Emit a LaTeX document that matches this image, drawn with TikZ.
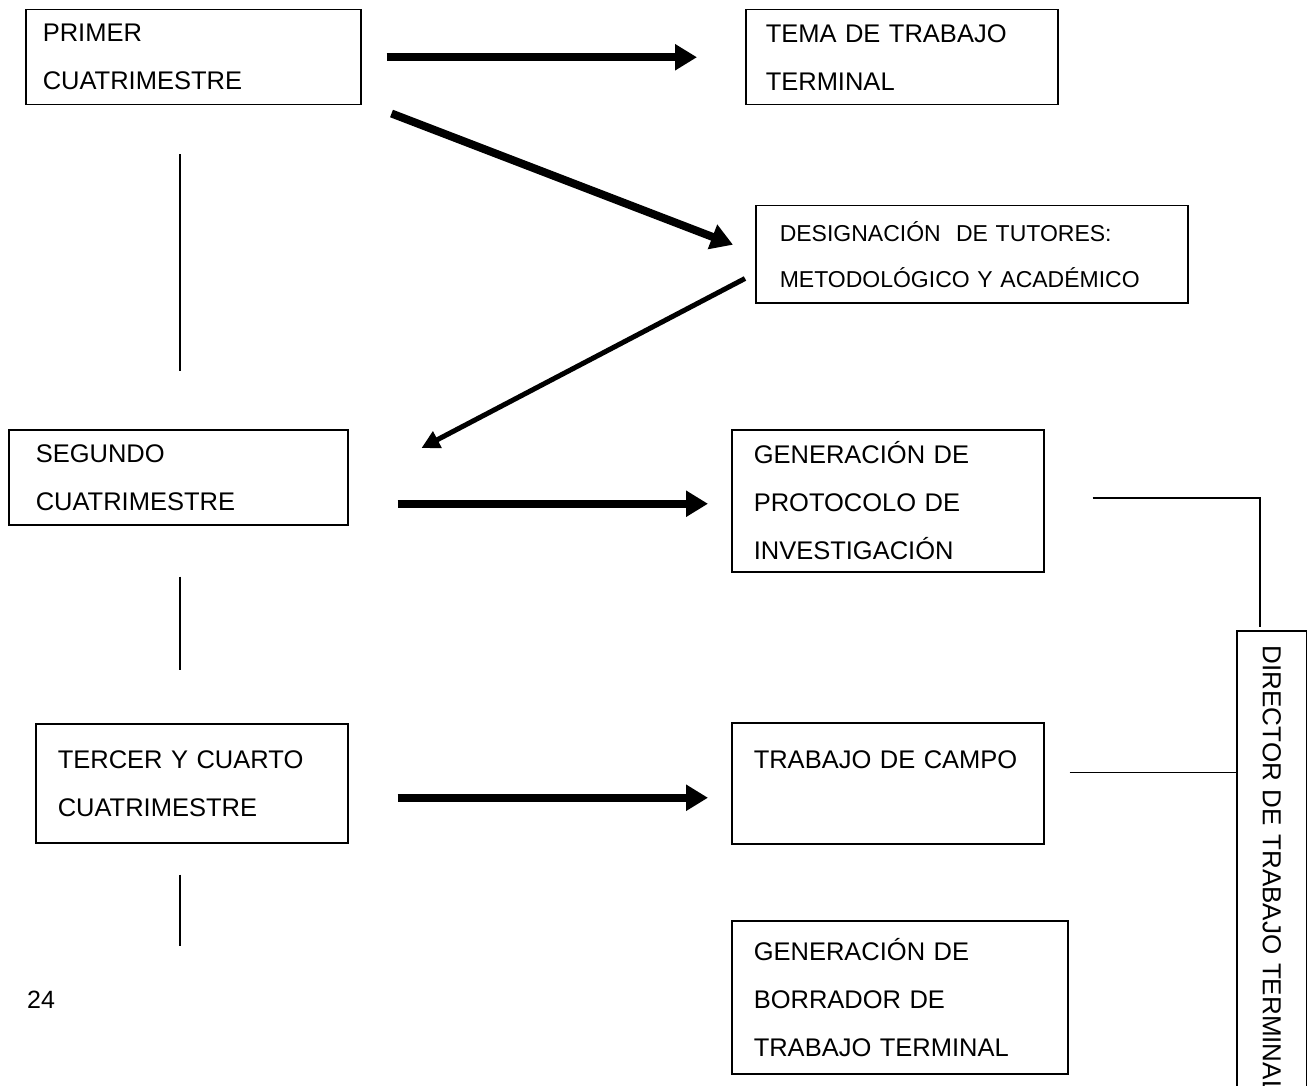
\documentclass[tikz,border=0pt]{standalone}
\usepackage{fontspec}
\setmainfont{Liberation Sans}
\usetikzlibrary{arrows.meta,calc}

\tikzset{
  caja/.style={draw, line width=1.5pt, anchor=north west, align=left,
    font=\fontsize{25.5}{48}\selectfont},
  flecha/.style={line width=8pt, -{Triangle[length=22pt,width=25pt]}},
  linea/.style={line width=1.5pt}
}

\begin{document}
\begin{tikzpicture}[x=1pt, y=-1pt]
            \useasboundingbox (0,0) rectangle (1307,1086);
            \clip (0,0) rectangle (1307,1086);
            % Left column
            \node[caja, inner xsep=17pt, text width=301pt, minimum height=95pt] (primer) at (25,9) {PRIMER\\CUATRIMESTRE};
            \node[caja, inner xsep=27pt, text width=285pt, minimum height=95pt] (segundo) at (8,429) {SEGUNDO\\CUATRIMESTRE};
            \node[caja, inner xsep=22pt, text width=268pt, minimum height=119pt] (tercer) at (35,723) {TERCER Y CUARTO\\CUATRIMESTRE};
            
            % Right column
            \node[caja, inner xsep=20pt, text width=272pt, minimum height=95pt] (tema) at (745,9) {TEMA DE TRABAJO\\TERMINAL};
            \node[caja, inner xsep=24pt, text width=384pt, minimum height=97pt, font=\fontsize{23}{46}\selectfont] (tutores) at (755,205) {DESIGNACIÓN~ DE TUTORES:\\METODOLÓGICO Y ACADÉMICO};
            \node[caja, inner xsep=22pt, text width=268pt, minimum height=142pt] (protocolo) at (731,429) {GENERACIÓN DE\\PROTOCOLO DE\\INVESTIGACIÓN};
            \node[caja, inner xsep=22pt, text width=268pt, minimum height=121pt] (campo) at (731,722) {TRABAJO DE CAMPO\\\mbox{}};
            \node[caja, inner xsep=22pt, text width=292pt, minimum height=153pt] (borrador) at (731,920) {GENERACIÓN DE\\BORRADOR DE\\TRABAJO TERMINAL};
            
            % Director (vertical)
            \node[caja, anchor=south west, rotate=-90, inner xsep=15pt, text width=460pt, minimum height=70pt, font=\fontsize{26}{30}\selectfont] (director) at (1236,630) {DIRECTOR DE TRABAJO TERMINAL};
            
            % Page number
            \node[font=\fontsize{25}{30}\selectfont, anchor=west, inner sep=0pt] (pagina) at (27,1000) {24};
            
            % Arrows
            \draw[flecha] ($(primer.east)+(25,0)$) -- ($(tema.west)+(-48,0)$);
            \draw[flecha] ($(primer.south east)+(30,8)$) -- ($(tutores.west)+(-22,-9.5)$);
            \draw[line width=5pt, -{Triangle[length=18pt,width=18pt]}] ($(tutores.south west)+(-10,-25)$) -- ($(segundo.north east)+(73,19)$);
            \draw[flecha] ($(segundo.east)+(49,26.5)$) -- ($(protocolo.west)+(-23,3)$);
            \draw[flecha] ($(tercer.east)+(49,14.5)$) -- ($(campo.west)+(-23,14.5)$);
            
            % Vertical lines, left column
            \draw[linea] ($(primer.south)+(-13.5,49)$) -- ($(segundo.north)+(1.5,-58)$);
            \draw[linea] ($(segundo.south)+(1.5,51)$) -- ($(tercer.north)+(-12,-53)$);
            \draw[linea] ($(tercer.south)+(-12,31)$) -- ($(tercer.south)+(-12,102)$);
            
            % Links to director
            \draw[linea] ($(protocolo.east)+(48,-3)$) -| ($(director.west)+(-12,-3)$);
            \coordinate (c1) at ($(campo.east)+(25,-11)$);
            \draw[linea] (c1) -- (c1 -| director.south);
        \end{tikzpicture}
\end{document}
